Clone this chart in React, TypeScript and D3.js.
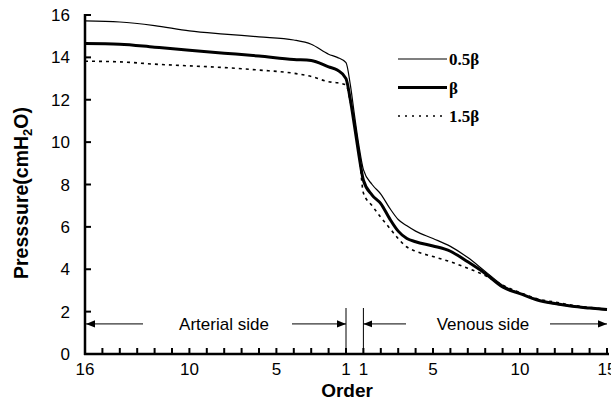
import React from 'react';
import * as d3 from 'd3';

// position along the order axis: arterial 16..1 -> 0..15, venous 1..15 -> 16..30
const positions = [0, 2, 4, 6, 8, 10, 12, 13, 14, 14.5, 15, 15.25, 15.5, 15.75, 16, 16.5, 17, 17.5, 18, 18.5, 19, 20, 21, 22, 23, 24, 25, 26, 27, 28, 29, 30];
const halfBeta = [15.72, 15.67, 15.5, 15.25, 15.1, 14.97, 14.82, 14.62, 14.15, 14.0, 13.75, 12.7, 11.2, 9.8, 8.7, 8.0, 7.55, 6.9, 6.35, 6.05, 5.8, 5.45, 5.08, 4.55, 3.9, 3.25, 2.85, 2.55, 2.35, 2.25, 2.15, 2.07];
const beta = [14.65, 14.62, 14.48, 14.34, 14.2, 14.06, 13.9, 13.85, 13.55, 13.4, 13.0, 12.0, 10.7, 9.35, 8.2, 7.5, 7.1, 6.4, 5.8, 5.45, 5.3, 5.1, 4.85, 4.35, 3.8, 3.16, 2.85, 2.55, 2.38, 2.25, 2.17, 2.1];
const oneHalfBeta = [13.82, 13.79, 13.68, 13.6, 13.52, 13.4, 13.25, 13.1, 12.85, 12.8, 12.7, 11.9, 10.9, 9.5, 7.6, 7.0, 6.45, 5.95, 5.45, 5.05, 4.85, 4.6, 4.35, 4.05, 3.7, 3.25, 2.9, 2.6, 2.45, 2.3, 2.2, 2.12];

const arterialLabels = [16, 10, 5, 1];
const venousLabels = [1, 5, 10, 15];
const yTicks = [0, 2, 4, 6, 8, 10, 12, 14, 16];
const legendNames = ['0.5β', 'β', '1.5β'];

const width = 611;
const height = 403;

export default function App() {
  const x = d3.scaleLinear().domain([0, 30]).range([85, 607]);
  const y = d3.scaleLinear().domain([0, 16]).range([354, 15]);

  const line = d3
    .line<number>()
    .x((_, i) => x(positions[i]))
    .y(d => y(d))
    .curve(d3.curveMonotoneX);

  const series = [
    { name: legendNames[0], values: halfBeta, w: 1.2, dash: undefined },
    { name: legendNames[1], values: beta, w: 3, dash: undefined },
    { name: legendNames[2], values: oneHalfBeta, w: 1.6, dash: '3,4' },
  ];

  const font = 'Arial, "Liberation Sans", sans-serif';
  const arrowY = y(1.42);
  const minor = d3.range(0, 31);

  return (
    <svg width={width} height={height} style={{ position: 'absolute', left: 0, top: 0, background: '#fff' }}>
      <defs>
        <marker id="ah" viewBox="0 0 10 10" refX="10" refY="5" markerWidth="9" markerHeight="9" markerUnits="userSpaceOnUse" orient="auto">
          <path d="M0,1 L10,5 L0,9 Z" fill="#000" />
        </marker>
      </defs>

      {/* axes */}
      <line x1={x(0)} x2={x(0)} y1={y(16) - 1} y2={y(0) + 1} stroke="#000" strokeWidth={2.5} />
      <line x1={x(0) - 1} x2={609} y1={y(0)} y2={y(0)} stroke="#000" strokeWidth={2.5} />
      {yTicks.map(t => (
        <g key={t}>
          <line x1={x(0)} x2={x(0) + 6} y1={y(t)} y2={y(t)} stroke="#000" strokeWidth={2} />
          <text x={70} y={y(t) + 6} textAnchor="end" fontFamily={font} fontSize={17}>{t}</text>
        </g>
      ))}
      {minor.map(p => (
        <line key={p} x1={x(p)} x2={x(p)} y1={y(0)} y2={y(0) - 6} stroke="#000" strokeWidth={2} />
      ))}
      {arterialLabels.map(o => (
        <text key={'a' + o} x={x(16 - o)} y={375} textAnchor="middle" fontFamily={font} fontSize={17}>{o}</text>
      ))}
      {venousLabels.map(o => (
        <text key={'v' + o} x={x(15 + o)} y={375} textAnchor="middle" fontFamily={font} fontSize={17}>{o}</text>
      ))}

      {/* axis titles */}
      <text x={347} y={397} textAnchor="middle" fontFamily={font} fontSize={19} fontWeight="bold">Order</text>
      <text transform={`translate(28,${193}) rotate(-90)`} textAnchor="middle" fontFamily={font} fontSize={19.5} fontWeight="bold">
        Presssure(cmH<tspan fontSize={13} dy={4}>2</tspan><tspan dy={-4}>O)</tspan>
      </text>

      {/* side annotations */}
      <line x1={x(15)} x2={x(15)} y1={308} y2={y(0)} stroke="#000" strokeWidth={1} />
      <line x1={x(16)} x2={x(16)} y1={308} y2={y(0)} stroke="#000" strokeWidth={1} />
      <line x1={143} x2={x(0) + 1} y1={arrowY} y2={arrowY} stroke="#000" strokeWidth={1} markerEnd="url(#ah)" />
      <line x1={292} x2={x(15)} y1={arrowY} y2={arrowY} stroke="#000" strokeWidth={1} markerEnd="url(#ah)" />
      <text x={224} y={arrowY + 6} textAnchor="middle" fontFamily={font} fontSize={17}>Arterial side</text>
      <line x1={406} x2={x(16)} y1={arrowY} y2={arrowY} stroke="#000" strokeWidth={1} markerEnd="url(#ah)" />
      <line x1={550} x2={x(30)} y1={arrowY} y2={arrowY} stroke="#000" strokeWidth={1} markerEnd="url(#ah)" />
      <text x={483} y={arrowY + 6} textAnchor="middle" fontFamily={font} fontSize={17}>Venous side</text>

      {/* curves */}
      {series.map(s => (
        <path key={s.name} d={line(s.values) || ''} fill="none" stroke="#000" strokeWidth={s.w} strokeDasharray={s.dash} strokeLinejoin="round" />
      ))}

      {/* legend */}
      {series.map((s, i) => (
        <g key={'l' + s.name} transform={`translate(0,${59 + i * 28.5})`}>
          <line x1={398} x2={447} y1={0} y2={0} stroke="#000" strokeWidth={s.w} strokeDasharray={s.dash ? '2,5' : undefined} />
          <text x={449} y={6} fontFamily='"Liberation Serif", "Times New Roman", serif' fontWeight="bold" fontSize={17}>{s.name}</text>
        </g>
      ))}
    </svg>
  );
}
